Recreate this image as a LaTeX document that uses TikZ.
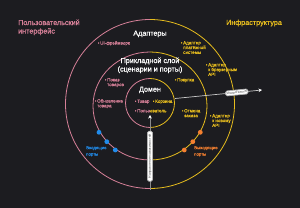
\documentclass[tikz,border=0pt]{standalone}
\usepackage{fontspec}
\setmainfont{Liberation Sans}
\newfontfamily\titlefont[FakeBold=1.0]{Liberation Sans}
\newfontfamily\itemfont[FakeBold=0.3]{Liberation Sans}
\usetikzlibrary{arrows.meta}
\definecolor{bgc}{RGB}{28,28,32}
\definecolor{pinkc}{RGB}{214,128,152}
\definecolor{yelc}{RGB}{230,188,30}
\definecolor{bluec}{RGB}{33,140,235}
\definecolor{orc}{RGB}{245,128,48}
\definecolor{linec}{RGB}{200,200,200}
\definecolor{vlinec}{RGB}{140,140,140}
\newcommand{\itembul}{\llap{•\hspace{0.8pt}}}
\begin{document}
\begin{tikzpicture}[x=1pt,y=-1pt,
  title/.style={font=\titlefont\fontsize{7.2}{8.5}\selectfont, inner sep=0pt, text=white},
  item/.style={font=\itemfont\fontsize{4.5}{4.8}\selectfont, inner sep=0pt, align=left, anchor=north west},
  portlbl/.style={font=\itemfont\fontsize{4.3}{6.4}\selectfont, inner sep=0pt, align=left, anchor=north west},
  ring/.style={line width=0.8pt},
  dot/.style={circle, inner sep=0pt, minimum size=4.8pt},
  arrowline/.style={line width=0.7pt, -{Stealth[length=3.5pt,width=3.5pt,color=white]}},
  tag/.style={fill=white, draw=gray!60, rounded corners=1.5pt, text=gray!60!black,
    font=\fontsize{3.4}{3.4}\selectfont, inner sep=0.9pt, minimum height=5pt}]
\fill[bgc] (0,0) rectangle (300,208);
\useasboundingbox (0,0) rectangle (300,208);
% rings: left half pink, right half yellow
\begin{scope}
  \clip (0,0) rectangle (150,208);
  \draw[ring, pinkc] (150,104) circle[radius=84.5];
  \draw[ring, pinkc] (150,106) circle[x radius=57, y radius=54];
  \draw[ring, pinkc] (150,103) circle[radius=24.5];
\end{scope}
\begin{scope}
  \clip (150,0) rectangle (300,208);
  \draw[ring, yelc] (150,104) circle[radius=84.5];
  \draw[ring, yelc] (150,106) circle[x radius=57, y radius=54];
  \draw[ring, yelc] (150,103) circle[radius=24.5];
\end{scope}
% titles
\node[title, text=pinkc, align=left, anchor=north west] (ui) at (18,19.5) {Пользовательский\\интерфейс};
\node[title, text=yelc, anchor=north west] (infra) at (226,19.5) {Инфраструктура};
\node[title, anchor=north] (adapters) at (150,30.5) {Адаптеры};
\node[title, align=center, anchor=north] (app) at (150,57.5) {Прикладной слой\\(сценарии и порты)};
\node[title, anchor=north] (domain) at (150,86.5) {Домен};
% items
\node[item, text=pinkc] (uifw) at (100,41) {\itembul UI-фреймворк};
\node[item, text=yelc] (pay) at (183,41) {\itembul Адаптер\\платёжной\\системы};
\node[item, text=yelc] (browser) at (208,63) {\itembul Адаптер\\к браузерным\\API};
\node[item, text=yelc] (buy) at (177,78) {\itembul Покупка};
\node[item, text=pinkc] (show) at (107,78) {\itembul Показ\\товаров};
\node[item, text=pinkc] (prod) at (137,99.5) {\itembul Товар};
\node[item, text=yelc] (cart) at (155,99.5) {\itembul Корзина};
\node[item] (user) at (137,109) {\textcolor{pinkc}{\itembul Польз}\textcolor{yelc}{ователь}};
\node[item, text=pinkc] (upd) at (97,99) {\itembul Обновление\\товара};
\node[item, text=yelc] (cancel) at (184,109) {\itembul Отмена\\заказа};
\node[item, text=yelc] (newapi) at (212,114) {\itembul Адаптер\\к новому\\API};
\node[portlbl, text=bluec] (inp) at (86,146) {Входящие\\порты};
\node[portlbl, text=orc] (outp) at (194,146) {Выходящие\\порты};
% port dots
\node[dot, fill=bluec] (b1) at (99,132.3) {};
\node[dot, fill=bluec] (b2) at (106.8,141.7) {};
\node[dot, fill=bluec] (b3) at (115.3,150) {};
\node[dot, fill=orc] (o1) at (200.3,132.3) {};
\node[dot, fill=orc] (o2) at (192.8,141.7) {};
\node[dot, fill=orc] (o3) at (184.3,150) {};
% arrows
\coordinate (rs) at (175,98.5);
\coordinate (re) at (262,90);
\draw[arrowline, linec] (rs) -- node[tag, sloped, pos=0.71] (sk) {shared kernel} (re);
\coordinate (vs) at (150,190);
\coordinate (ve) at (150,115);
\draw[arrowline, vlinec] (vs) -- node[tag, sloped, pos=0.45, minimum width=50pt] (dd) {Направление зависимостей} (ve);
\end{tikzpicture}
\end{document}
